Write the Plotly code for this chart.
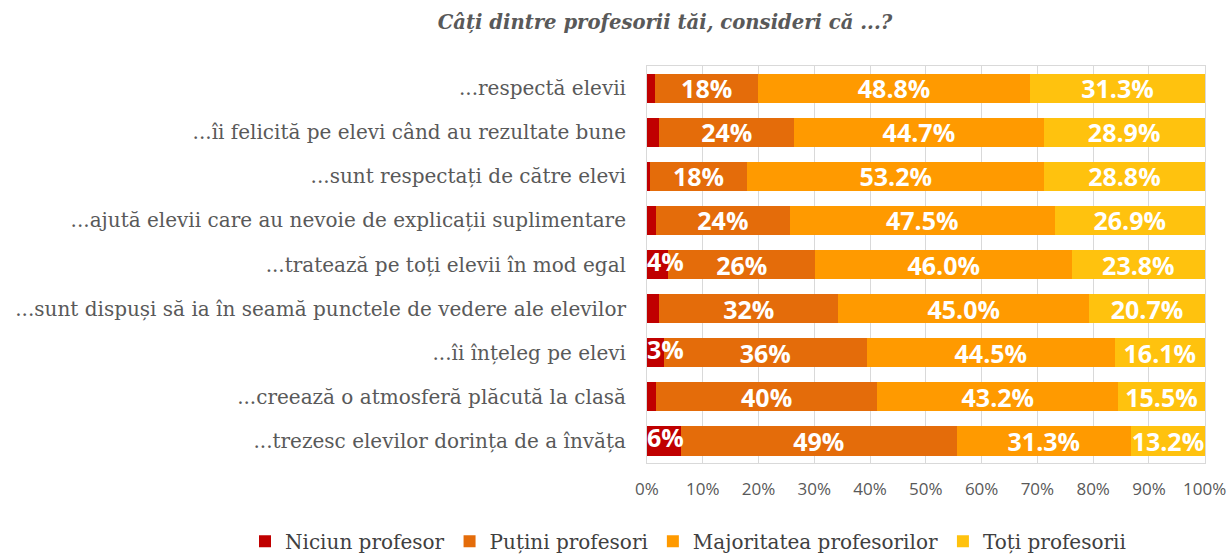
import plotly.graph_objects as go

categories = [
    "...respectă elevii",
    "...îi felicită pe elevi când au rezultate bune",
    "...sunt respectați de către elevi",
    "...ajută elevii care au nevoie de explicații suplimentare",
    "...tratează pe toți elevii în mod egal",
    "...sunt dispuși să ia în seamă punctele de vedere ale elevilor",
    "...îi înțeleg pe elevi",
    "...creează o atmosferă plăcută la clasă",
    "...trezesc elevilor dorința de a învăța",
]
niciun = [1.5, 2.2, 0.5, 1.6, 3.8, 2.2, 3.0, 1.6, 6.1]
putini = [18.4, 24.2, 17.5, 24.0, 26.4, 32.1, 36.4, 39.7, 49.4]
majoritatea = [48.8, 44.7, 53.2, 47.5, 46.0, 45.0, 44.5, 43.2, 31.3]
toti = [31.3, 28.9, 28.8, 26.9, 23.8, 20.7, 16.1, 15.5, 13.2]
niciun_labels = ["", "", "", "", "4%", "", "3%", "", "6%"]

series_names = ["Niciun profesor", "Puțini profesori", "Majoritatea profesorilor", "Toți profesorii"]
colors = ["#C00000", "#E46C0A", "#FF9A00", "#FFC20E"]
tick_vals = [0, 10, 20, 30, 40, 50, 60, 70, 80, 90, 100]
tick_text = [f"{v}%" for v in tick_vals]

label_font = dict(family="Open Sans", size=25, color="white")

fig = go.Figure()
fig.add_trace(go.Bar(
    y=categories, x=niciun, orientation="h", name=series_names[0],
    marker=dict(color=colors[0], line=dict(width=0)),
))
fig.add_trace(go.Bar(
    y=categories, x=putini, orientation="h", name=series_names[1],
    marker=dict(color=colors[1], line=dict(width=0)),
    text=[f"<b>{round(v):.0f}%</b>" for v in putini], textposition="inside",
    insidetextanchor="middle", textfont=label_font,
))
fig.add_trace(go.Bar(
    y=categories, x=majoritatea, orientation="h", name=series_names[2],
    marker=dict(color=colors[2], line=dict(width=0)),
    text=[f"<b>{v:.1f}%</b>" for v in majoritatea], textposition="inside",
    insidetextanchor="middle", textfont=label_font,
))
fig.add_trace(go.Bar(
    y=categories, x=toti, orientation="h", name=series_names[3],
    marker=dict(color=colors[3], line=dict(width=0)),
    text=[f"<b>{v:.1f}%</b>" for v in toti], textposition="inside",
    insidetextanchor="middle", textfont=label_font,
))
# labels of the small red segments, anchored at the left edge like the original
fig.add_trace(go.Scatter(
    y=categories, x=[0] * len(categories), mode="text",
    text=[f"<b>{t}</b>" if t else "" for t in niciun_labels],
    textposition="middle right", textfont=label_font,
    showlegend=False, hoverinfo="skip", cliponaxis=False,
))

fig.update_layout(
    width=1229, height=555,
    barmode="stack", bargap=0.34,
    paper_bgcolor="white", plot_bgcolor="white",
    margin=dict(l=647, r=24, t=66, b=92, autoexpand=False),
    uniformtext=dict(minsize=25, mode="show"),
    title=dict(
        text="<b><i>Câți dintre profesorii tăi, consideri că ...?</i></b>",
        x=665 / 1229, xanchor="center", y=1 - 22 / 555, yanchor="middle",
        font=dict(family="DejaVu Serif", size=19.6, color="#595959"),
    ),
    xaxis=dict(
        range=[0, 100.05], tickvals=tick_vals, ticktext=tick_text,
        showgrid=True, gridcolor="#D9D9D9", gridwidth=1,
        showline=True, linecolor="#D9D9D9", mirror=True,
        ticks="outside", ticklen=11, tickcolor="rgba(0,0,0,0)",
        tickfont=dict(family="Open Sans", size=17, color="#595959"),
        zeroline=False, automargin=False,
    ),
    yaxis=dict(
        autorange="reversed", showline=True, linecolor="#D9D9D9", mirror=True,
        ticks="outside", ticklen=16, tickcolor="rgba(0,0,0,0)",
        tickfont=dict(family="DejaVu Serif", size=20, color="#595959"),
        showgrid=False, automargin=False,
    ),
    legend=dict(
        orientation="h", x=(245 - 647) / 558, xanchor="left", y=-0.148, yanchor="top",
        font=dict(family="DejaVu Serif", size=20, color="#404040"),
        traceorder="normal", itemwidth=30,
    ),
    showlegend=True,
)

fig.write_html(
    "out.html",
    config={"displayModeBar": False},
    post_script="document.body.style.margin='0';document.body.style.overflow='hidden';",
)
